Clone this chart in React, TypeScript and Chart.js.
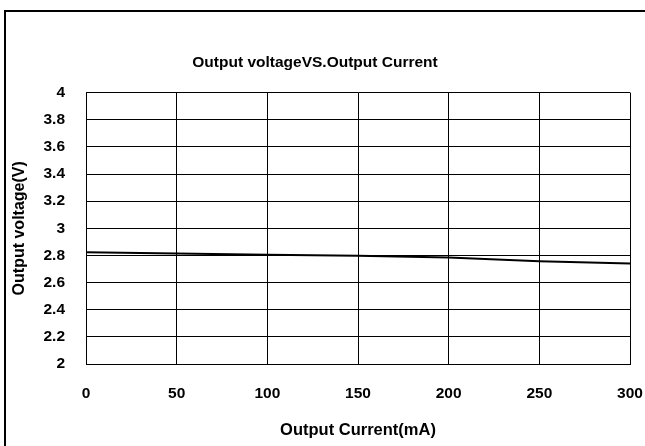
import React, { useEffect, useRef } from "react";
import { Chart, registerables } from "chart.js";

Chart.register(...registerables);

const currents: number[] = [0, 50, 100, 150, 200, 250, 300];
const voltages: number[] = [2.824, 2.815, 2.805, 2.797, 2.785, 2.758, 2.741];
const xTicks: number[] = [0, 50, 100, 150, 200, 250, 300];
const yTicks: number[] = [2, 2.2, 2.4, 2.6, 2.8, 3, 3.2, 3.4, 3.6, 3.8, 4];

const titleText = "Output voltageVS.Output Current";
const xTitle = "Output Current(mA)";
const yTitle = "Output voltage(V)";

const FONT = "'Liberation Sans', Arial, 'DejaVu Sans', sans-serif";
const FS = 15.5;
const AXIS_FS = 16.5;
const CLEAR = "rgba(0,0,0,0)";

const framePlugin = {
  id: "frame",
  beforeDraw(chart: any) {
    const ctx = chart.ctx;
    ctx.save();
    ctx.fillStyle = "#ffffff";
    ctx.fillRect(0, 0, chart.width, chart.height);
    ctx.strokeStyle = "#000000";
    ctx.lineWidth = 2;
    ctx.strokeRect(5, 11, chart.width + 20, chart.height + 20);
    ctx.restore();
  },
};

export default function App() {
  const canvasRef = useRef<HTMLCanvasElement | null>(null);

  useEffect(() => {
    document.body.style.margin = "0";
    const canvas = canvasRef.current;
    if (!canvas) return;
    const chart = new Chart(canvas, {
      type: "line",
      data: {
        labels: currents,
        datasets: [
          {
            data: currents.map((x, i) => ({ x, y: voltages[i] })),
            borderColor: "#000000",
            borderWidth: 2,
            pointRadius: 0,
            tension: 0,
            fill: false,
          },
        ],
      },
      options: {
        responsive: false,
        animation: false,
        layout: { padding: { left: 0, right: 15, top: 0, bottom: 0 } },
        plugins: {
          legend: { display: false },
          tooltip: { enabled: false },
          title: {
            display: true,
            text: titleText,
            color: "#000000",
            font: { family: FONT, size: FS, weight: "bold" },
            padding: { top: 53, bottom: 21 },
          },
        },
        scales: {
          x: {
            type: "linear",
            min: 0,
            max: 300,
            afterBuildTicks: (scale: any) => {
              scale.ticks = xTicks.map((v) => ({ value: v }));
            },
            afterFit: (scale: any) => {
              scale.height = 82;
            },
            grid: {
              color: "#000000",
              lineWidth: 1,
              drawTicks: true,
              tickLength: 20,
              tickColor: CLEAR,
            },
            border: { color: "#000000", width: 1 },
            ticks: {
              color: "#000000",
              padding: 0,
              maxRotation: 0,
              font: { family: FONT, size: FS, weight: "bold" },
            },
            title: {
              display: true,
              text: xTitle,
              color: "#000000",
              font: { family: FONT, size: AXIS_FS, weight: "bold" },
              padding: { top: 4, bottom: 6 },
            },
          },
          y: {
            type: "linear",
            min: 2,
            max: 4,
            afterBuildTicks: (scale: any) => {
              scale.ticks = yTicks.map((v) => ({ value: v }));
            },
            afterFit: (scale: any) => {
              scale.width = 86;
            },
            grid: {
              color: "#000000",
              lineWidth: 1,
              drawTicks: true,
              tickLength: 21,
              tickColor: CLEAR,
            },
            border: { color: "#000000", width: 1 },
            ticks: {
              color: "#000000",
              padding: 0,
              font: { family: FONT, size: FS, weight: "bold" },
              callback: (v: any) => String(Math.round(Number(v) * 10) / 10),
            },
            title: {
              display: true,
              text: yTitle,
              color: "#000000",
              font: { family: FONT, size: 16, weight: "bold" },
              padding: { top: 10, bottom: 4 },
            },
          },
        },
      },
      plugins: [framePlugin],
    });
    return () => chart.destroy();
  }, []);

  return (
    <div style={{ position: "absolute", left: 0, top: 0, width: 645, height: 446 }}>
      <canvas ref={canvasRef} width={645} height={446} style={{ display: "block" }} />
    </div>
  );
}
